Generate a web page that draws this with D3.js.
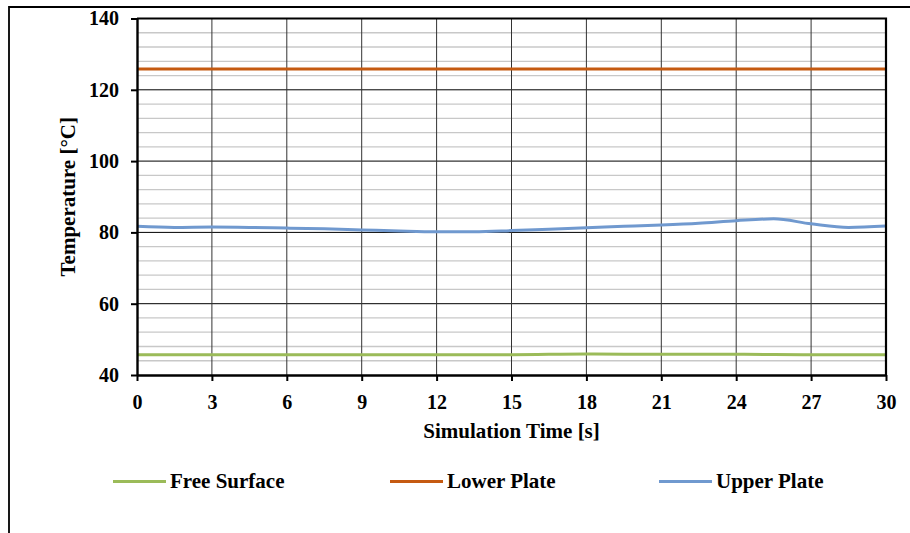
<!DOCTYPE html>
<html>
<head>
<meta charset="utf-8">
<script src="https://cdn.jsdelivr.net/npm/d3@7"></script>
<style>
body{margin:0;background:#fff;}
text{font-family:"Liberation Serif","Times New Roman",serif;font-weight:bold;fill:#000;}
</style>
</head>
<body>
<script>
// chart data
var tfree=[0,3,6,9,12,15,18,21,24,27,30];
var vfree=[45.7,45.7,45.7,45.7,45.7,45.7,45.9,45.8,45.8,45.7,45.7];
var tlow=[0,3,6,9,12,15,18,21,24,27,30];
var vlow=[125.8,125.8,125.8,125.8,125.8,125.8,125.8,125.8,125.8,125.8,125.8];
var tup=[0,1.5,3,4.5,6,7.5,9,10.5,12,13.5,15,16.5,18,19.5,21,22.5,24,25.5,27,28.5,30];
var vup=[81.7,81.4,81.5,81.4,81.2,81.0,80.7,80.4,80.2,80.2,80.5,80.9,81.3,81.7,82.1,82.6,83.3,83.8,82.4,81.4,81.8];
var xticks=[0,3,6,9,12,15,18,21,24,27,30];
var yticks=[40,60,80,100,120,140];
var yminor=[44,48,52,56,64,68,72,76,84,88,92,96,104,108,112,116,124,128,132,136];
var names=['Free Surface','Lower Plate','Upper Plate'];
var cols=['#9bbb59','#c55a11','#7099cf'];
// layout
var wid=910,hgh=533;
var pl=137,pr=886,pt=18.5,pb=375;
var x=d3.scaleLinear().domain([0,30]).range([pl,pr]);
var y=d3.scaleLinear().domain([40,140]).range([pb,pt]);
var svg=d3.select('body').append('svg').attr('width',wid).attr('height',hgh);
// outer frame (runs off right and bottom)
svg.append('path').attr('d','M9,'+(hgh+5)+'V7H'+(wid+5))
  .attr('fill','none').attr('stroke','#000').attr('stroke-width',1.8);
// grid
svg.selectAll('line.ymin').data(yminor).enter().append('line').attr('class','ymin')
  .attr('x1',pl).attr('x2',pr).attr('y1',function(d){return y(d);}).attr('y2',function(d){return y(d);})
  .attr('stroke','#c8c8c8').attr('stroke-width',1.3);
svg.selectAll('line.ymaj').data(yticks.slice(1,-1)).enter().append('line').attr('class','ymaj')
  .attr('x1',pl).attr('x2',pr).attr('y1',function(d){return y(d);}).attr('y2',function(d){return y(d);})
  .attr('stroke','#000').attr('stroke-width',1);
svg.selectAll('line.xmaj').data(xticks.slice(1,-1)).enter().append('line').attr('class','xmaj')
  .attr('y1',pt).attr('y2',pb).attr('x1',function(d){return x(d);}).attr('x2',function(d){return x(d);})
  .attr('stroke','#333').attr('stroke-width',1);
// series
var ln=d3.line().x(function(d){return x(d[0]);}).y(function(d){return y(d[1]);}).curve(d3.curveMonotoneX);
var sers=[d3.zip(tfree,vfree),d3.zip(tlow,vlow),d3.zip(tup,vup)];
svg.selectAll('path.ser').data(sers).enter().append('path').attr('class','ser')
  .attr('d',ln).attr('fill','none').attr('stroke',function(d,i){return cols[i];}).attr('stroke-width',3);
// plot border
svg.append('path').attr('d','M'+pl+','+pt+'H'+pr+'V'+pb)
  .attr('fill','none').attr('stroke','#000').attr('stroke-width',2.2);
// axes
var xa=svg.append('g').attr('transform','translate(0,'+pb+')')
  .call(d3.axisBottom(x).tickValues(xticks).tickSize(6).tickPadding(14).tickSizeOuter(0));
var ya=svg.append('g').attr('transform','translate('+pl+',0)')
  .call(d3.axisLeft(y).tickValues(yticks).tickSize(6).tickPadding(12).tickSizeOuter(0));
[xa,ya].forEach(function(a){
 a.select('.domain').attr('stroke','#000').attr('stroke-width',2.4);
 a.selectAll('.tick line').attr('stroke','#000').attr('stroke-width',2);
 a.selectAll('.tick text').style('font-size','20px').style('font-family','"Liberation Serif",serif').style('font-weight','bold').attr('fill','#000');
});
// titles
svg.append('text').attr('x',(pl+pr)/2).attr('y',438).attr('text-anchor','middle')
  .style('font-size','21px').text('Simulation Time [s]');
svg.append('text').attr('transform','translate(75,'+((pt+pb)/2)+') rotate(-90)').attr('text-anchor','middle')
  .style('font-size','21px').text('Temperature [°C]');
// legend
var lgx=[113,390,659];
var lg=svg.selectAll('g.lg').data(names).enter().append('g').attr('class','lg')
  .attr('transform',function(d,i){return 'translate('+lgx[i]+',481.5)';});
lg.append('line').attr('x1',0).attr('x2',53).attr('stroke',function(d,i){return cols[i];}).attr('stroke-width',3);
lg.append('text').attr('x',57).attr('y',6.5).style('font-size','21px').text(function(d){return d;});
</script>
</body>
</html>
